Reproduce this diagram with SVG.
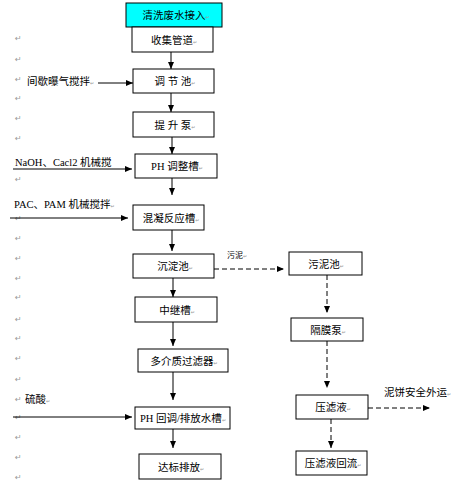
<svg xmlns="http://www.w3.org/2000/svg" width="465" height="486" viewBox="0 0 465 486">
<style>
.box{fill:#fff;stroke:#000;stroke-width:1}
.cyan{fill:#00ffff;stroke:#000;stroke-width:1}
.t{font-family:"Liberation Serif","Noto Sans CJK SC",serif;font-size:10.5px;fill:#000}
.c{text-anchor:middle}
.pm{font-family:"DejaVu Sans",sans-serif;font-size:8px;fill:#999}
.pm2{font-family:"DejaVu Sans",sans-serif;font-size:5px;fill:#999}
.ln{stroke:#000;stroke-width:1;fill:none}
.ds{stroke:#000;stroke-width:1;fill:none;stroke-dasharray:5 3}
</style>
<defs>
<marker id="ah" markerWidth="7" markerHeight="6" refX="7" refY="3" orient="auto" markerUnits="userSpaceOnUse">
<path d="M0,0 L7,3 L0,6 Z" fill="#000"/>
</marker>
</defs>
<rect width="465" height="486" fill="#fff"/>
<g id="marks">
<text class="pm" x="15" y="41">↵</text>
<text class="pm" x="15" y="62">↵</text>
<text class="pm" x="15" y="82">↵</text>
<text class="pm" x="15" y="101">↵</text>
<text class="pm" x="15" y="121">↵</text>
<text class="pm" x="15" y="141">↵</text>
<text class="pm" x="15" y="182">↵</text>
<text class="pm" x="15" y="221">↵</text>
<text class="pm" x="15" y="241">↵</text>
<text class="pm" x="15" y="261">↵</text>
<text class="pm" x="15" y="281">↵</text>
<text class="pm" x="15" y="300">↵</text>
<text class="pm" x="15" y="322">↵</text>
<text class="pm" x="15" y="341">↵</text>
<text class="pm" x="15" y="361">↵</text>
<text class="pm" x="15" y="382">↵</text>
<text class="pm" x="15" y="402">↵</text>
<text class="pm" x="15" y="420">↵</text>
<text class="pm" x="15" y="440">↵</text>
<text class="pm" x="15" y="460">↵</text>
<text class="pm" x="15" y="480">↵</text>
</g>
<g id="connectors">
<line class="ln" x1="171" y1="52" x2="171" y2="69" marker-end="url(#ah)"/>
<line class="ln" x1="171" y1="93" x2="171" y2="112" marker-end="url(#ah)"/>
<line class="ln" x1="172" y1="137" x2="172" y2="154" marker-end="url(#ah)"/>
<line class="ln" x1="172" y1="178" x2="172" y2="195" marker-end="url(#ah)"/>
<line class="ln" x1="172" y1="230" x2="172" y2="251" marker-end="url(#ah)"/>
<line class="ln" x1="173" y1="278" x2="173" y2="297" marker-end="url(#ah)"/>
<line class="ln" x1="173" y1="322" x2="173" y2="346" marker-end="url(#ah)"/>
<line class="ln" x1="173" y1="372" x2="173" y2="400" marker-end="url(#ah)"/>
<line class="ln" x1="173" y1="429" x2="173" y2="448" marker-end="url(#ah)"/>
<line class="ln" x1="98" y1="83" x2="133" y2="83" marker-end="url(#ah)"/>
<line class="ln" x1="13" y1="169" x2="132" y2="169" marker-end="url(#ah)"/>
<line class="ln" x1="10" y1="218" x2="128" y2="218" marker-end="url(#ah)"/>
<line class="ln" x1="13" y1="417" x2="132" y2="417" marker-end="url(#ah)"/>
<line class="ds" x1="214" y1="269" x2="284" y2="269" marker-end="url(#ah)"/>
<line class="ds" x1="327" y1="275" x2="327" y2="313" marker-end="url(#ah)"/>
<line class="ds" x1="327" y1="341" x2="327" y2="388" marker-end="url(#ah)"/>
<line class="ds" x1="368" y1="408" x2="430" y2="408" marker-end="url(#ah)"/>
<line class="ds" x1="331" y1="419" x2="331" y2="448" marker-end="url(#ah)"/>
</g>
<g id="labels">
<text class="t" x="27" y="85">间歇曝气搅拌<tspan class="pm2">↵</tspan></text>
<text class="t" x="15" y="166">NaOH、Cacl2 机械搅</text>
<text class="t" x="14" y="208">PAC、PAM 机械搅拌<tspan class="pm2">↵</tspan></text>
<text class="t" x="25" y="403">硫酸<tspan class="pm2">↵</tspan></text>
<text class="t" x="227" y="258" style="font-size:8px">污泥<tspan class="pm2">↵</tspan></text>
<text class="t" x="384" y="396">泥饼安全外运<tspan class="pm2">↵</tspan></text>
</g>
<g id="n1"><rect class="cyan" x="126" y="3" width="96" height="24"/><text class="t c" x="176" y="19">清洗废水接入<tspan class="pm2">↵</tspan></text></g>
<g id="n2"><rect class="box" x="132" y="27" width="81" height="25"/><text class="t c" x="174" y="43.5">收集管道<tspan class="pm2">↵</tspan></text></g>
<g id="n3"><rect class="box" x="133" y="69" width="81" height="24"/><text class="t c" x="175" y="85">调 节 池<tspan class="pm2">↵</tspan></text></g>
<g id="n4"><rect class="box" x="133" y="112" width="81" height="25"/><text class="t c" x="175" y="128.5">提 升 泵<tspan class="pm2">↵</tspan></text></g>
<g id="n5"><rect class="box" x="135" y="154" width="82" height="24"/><text class="t c" x="177" y="170">PH 调整槽<tspan class="pm2">↵</tspan></text></g>
<g id="n6"><rect class="box" x="133" y="205" width="71" height="25"/><text class="t c" x="171" y="221.5">混凝反应槽<tspan class="pm2">↵</tspan></text></g>
<g id="n7"><rect class="box" x="133" y="254" width="81" height="24"/><text class="t c" x="175" y="270">沉淀池<tspan class="pm2">↵</tspan></text></g>
<g id="n8"><rect class="box" x="135" y="297" width="82" height="25"/><text class="t c" x="177" y="313.5">中继槽<tspan class="pm2">↵</tspan></text></g>
<g id="n9"><rect class="box" x="138" y="349" width="90" height="23"/><text class="t c" x="184" y="364.5">多介质过滤器<tspan class="pm2">↵</tspan></text></g>
<g id="n10"><rect class="box" x="135" y="407" width="95" height="22"/><text class="t c" x="183" y="422">PH 回调/排放水槽<tspan class="pm2">↵</tspan></text></g>
<g id="n11"><rect class="box" x="139" y="454" width="82" height="25"/><text class="t c" x="181" y="470.5">达标排放<tspan class="pm2">↵</tspan></text></g>
<g id="n12"><rect class="box" x="289" y="252" width="73" height="23"/><text class="t c" x="326" y="267.5">污泥池<tspan class="pm2">↵</tspan></text></g>
<g id="n13"><rect class="box" x="291" y="318" width="72" height="23"/><text class="t c" x="328" y="333.5">隔膜泵<tspan class="pm2">↵</tspan></text></g>
<g id="n14"><rect class="box" x="296" y="395" width="72" height="24"/><text class="t c" x="333" y="411">压滤液<tspan class="pm2">↵</tspan></text></g>
<g id="n15"><rect class="box" x="296" y="451" width="71" height="24"/><text class="t c" x="333" y="467">压滤液回流<tspan class="pm2">↵</tspan></text></g>
</svg>
